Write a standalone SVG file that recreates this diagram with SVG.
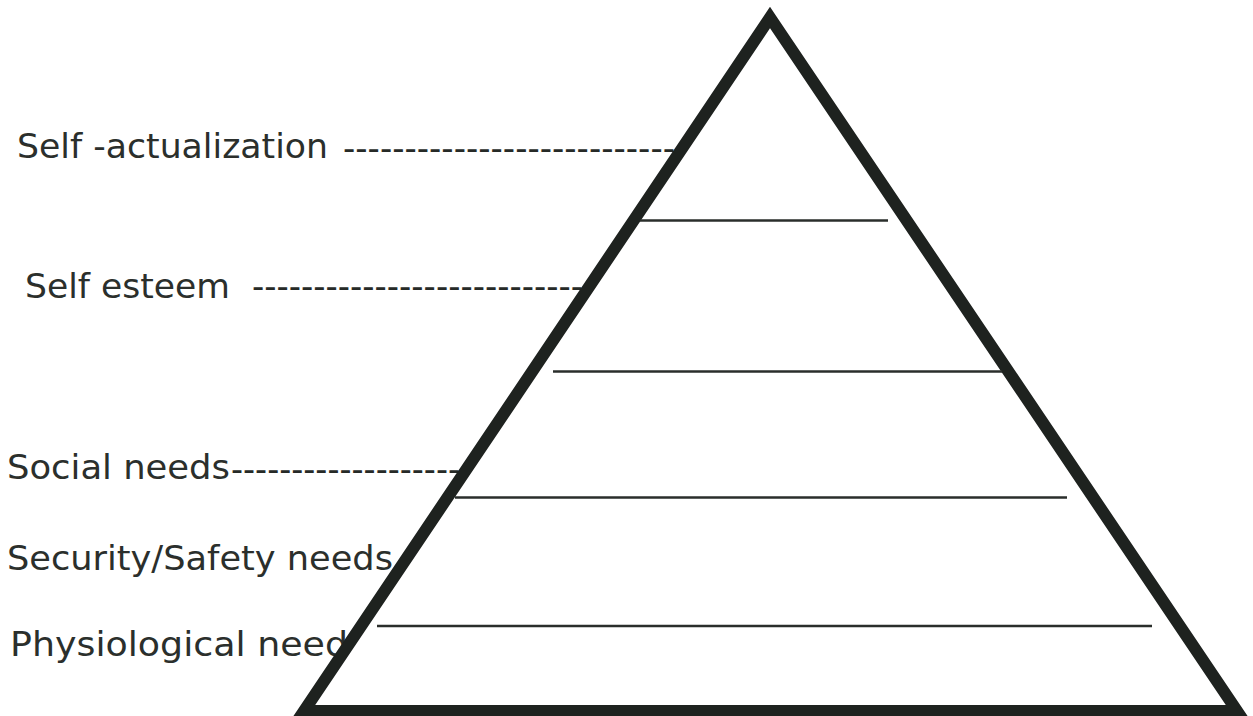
<svg xmlns="http://www.w3.org/2000/svg" width="1253" height="716" viewBox="0 0 1253 716">
  <style>
    .lbl { font-family: "DejaVu Sans", "Liberation Sans", sans-serif; font-size: 34px; fill: #2b2f2c; }
    .lead { font-family: "DejaVu Sans", "Liberation Sans", sans-serif; font-size: 34px; fill: #262a27; }
    .edge { fill: #ffffff; stroke: #1e221f; stroke-width: 12; stroke-linejoin: miter; stroke-miterlimit: 10; }
    .tier { stroke: #2a2e2b; stroke-width: 2.5; fill: none; }
  </style>
  <rect x="0" y="0" width="1253" height="716" fill="#ffffff"/>

  <g id="labels">
    <g id="node-self-actualization">
      <text class="lbl" x="17" y="158" textLength="311" lengthAdjust="spacingAndGlyphs">Self -actualization</text>
    </g>
    <g id="node-self-esteem">
      <text class="lbl" x="25" y="298" textLength="205" lengthAdjust="spacingAndGlyphs">Self esteem</text>
    </g>
    <g id="node-social-needs">
      <text class="lbl" x="7" y="479" textLength="223" lengthAdjust="spacingAndGlyphs">Social needs</text>
    </g>
    <g id="node-security-safety-needs">
      <text class="lbl" x="7" y="570" textLength="386" lengthAdjust="spacingAndGlyphs">Security/Safety needs</text>
    </g>
    <g id="node-physiological-needs">
      <text class="lbl" x="10" y="656" textLength="357" lengthAdjust="spacingAndGlyphs">Physiological needs</text>
    </g>
  </g>

  <g id="connectors">
    <text class="lead" x="343" y="160" textLength="332" lengthAdjust="spacingAndGlyphs">---------------------------</text>
    <text class="lead" x="252" y="298" textLength="331" lengthAdjust="spacingAndGlyphs">---------------------------</text>
    <text class="lead" x="231" y="481" textLength="229" lengthAdjust="spacingAndGlyphs">-------------------</text>
  </g>

  <g id="pyramid">
    <polygon class="edge" points="770,17.5 1237,711 304,711"/>
    <line class="tier" x1="640" y1="220.5" x2="888" y2="220.5"/>
    <line class="tier" x1="553" y1="371.5" x2="1002" y2="371.5"/>
    <line class="tier" x1="455" y1="497.5" x2="1067" y2="497.5"/>
    <line class="tier" x1="377" y1="626" x2="1152" y2="626"/>
  </g>
</svg>
